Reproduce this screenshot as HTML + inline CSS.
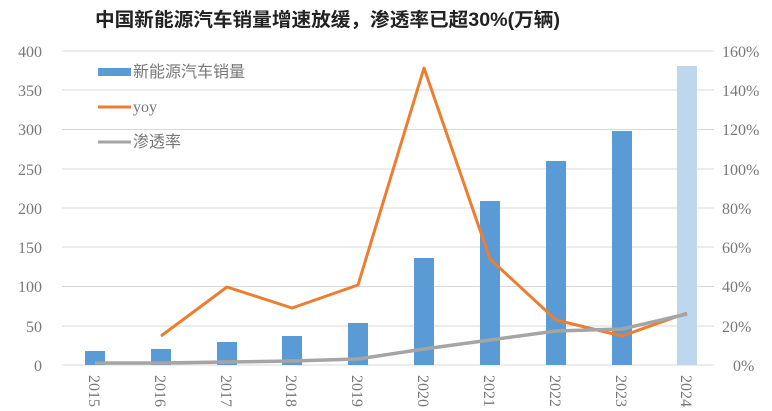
<!DOCTYPE html>
<html><head><meta charset="utf-8"><style>
body{margin:0;background:#fff;}
svg{display:block;font-family:"Liberation Serif","Noto Serif CJK SC",serif;}
</style></head><body>
<svg width="772" height="411" viewBox="0 0 772 411">
<text x="95" y="26" font-size="19" font-weight="bold" fill="#222" textLength="465" lengthAdjust="spacingAndGlyphs" font-family="'Liberation Sans','Noto Sans CJK SC',sans-serif">中国新能源汽车销量增速放缓，渗透率已超30%(万辆)</text>
<g stroke="#d9d9d9" stroke-width="1">
<line x1="62" x2="714" y1="51" y2="51"/><line x1="62" x2="714" y1="90" y2="90"/>
<line x1="62" x2="714" y1="129.5" y2="129.5"/><line x1="62" x2="714" y1="169" y2="169"/>
<line x1="62" x2="714" y1="208" y2="208"/><line x1="62" x2="714" y1="247" y2="247"/>
<line x1="62" x2="714" y1="286.5" y2="286.5"/><line x1="62" x2="714" y1="326" y2="326"/>
<line x1="62" x2="714" y1="365" y2="365"/>
</g>
<g fill="#777" font-size="16" text-anchor="end">
<text x="42" y="57">400</text><text x="42" y="96">350</text><text x="42" y="135">300</text>
<text x="42" y="175">250</text><text x="42" y="214">200</text><text x="42" y="253">150</text>
<text x="42" y="292">100</text><text x="42" y="332">50</text><text x="42" y="371">0</text>
</g>
<g fill="#777" font-size="16">
<text x="722" y="57">160%</text><text x="722" y="96">140%</text><text x="722" y="135">120%</text>
<text x="722" y="175">100%</text><text x="722" y="214">80%</text><text x="722" y="253">60%</text>
<text x="722" y="292">40%</text><text x="722" y="332">20%</text><text x="733" y="371">0%</text>
</g>
<g fill="#5b9bd5">
<rect x="85" y="351" width="20" height="14"/>
<rect x="151" y="349" width="20" height="16"/>
<rect x="217" y="342" width="20" height="23"/>
<rect x="282" y="336" width="20" height="29"/>
<rect x="348" y="323" width="20" height="42"/>
<rect x="414" y="258" width="20" height="107"/>
<rect x="480" y="201" width="20" height="164"/>
<rect x="546" y="161" width="20" height="204"/>
<rect x="612" y="131" width="20" height="234"/>
</g>
<rect x="677" y="66" width="20" height="299" fill="#bdd7ee"/>
<polyline fill="none" stroke="#ed7d31" stroke-width="3" stroke-linejoin="round" points="161,336 227,287 292,308 358,285 424,68 490,259 556,320 622,336 687,313"/>
<polyline fill="none" stroke="#a5a5a5" stroke-width="3.5" stroke-linejoin="round" points="95,363 161,363 227,362 292,361 358,359 424,349 490,340 556,331 622,329 687,314"/>
<g fill="#777" font-size="16">
<text transform="translate(89,375) rotate(90)">2015</text>
<text transform="translate(155,375) rotate(90)">2016</text>
<text transform="translate(221,375) rotate(90)">2017</text>
<text transform="translate(286,375) rotate(90)">2018</text>
<text transform="translate(352,375) rotate(90)">2019</text>
<text transform="translate(418,375) rotate(90)">2020</text>
<text transform="translate(484,375) rotate(90)">2021</text>
<text transform="translate(550,375) rotate(90)">2022</text>
<text transform="translate(616,375) rotate(90)">2023</text>
<text transform="translate(681,375) rotate(90)">2024</text>
</g>
<rect x="98" y="68" width="33" height="8" fill="#5b9bd5"/>
<line x1="98" x2="131" y1="107" y2="107" stroke="#ed7d31" stroke-width="3"/>
<line x1="98" x2="131" y1="142" y2="142" stroke="#a5a5a5" stroke-width="3"/>
<g fill="#777" font-size="16">
<text x="133" y="77" font-family="'Liberation Sans','Noto Sans CJK SC',sans-serif">新能源汽车销量</text>
<text x="133" y="112">yoy</text>
<text x="133" y="147" font-family="'Liberation Sans','Noto Sans CJK SC',sans-serif">渗透率</text>
</g>
</svg>
</body></html>
